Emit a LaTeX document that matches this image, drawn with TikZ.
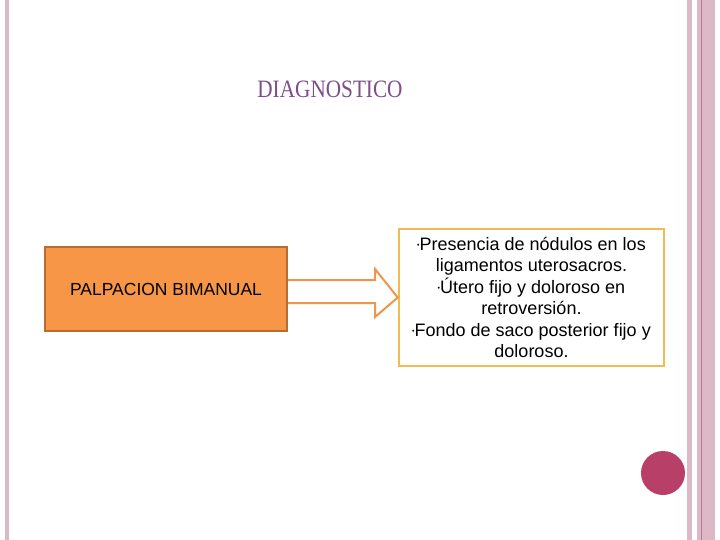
\documentclass[tikz,border=0pt]{standalone}
\usepackage{fontspec}
\setmainfont{Liberation Sans}
\newfontfamily\titlefont{Liberation Serif}
\usetikzlibrary{positioning}
\definecolor{stripe}{HTML}{DDB8C6}
\definecolor{stripedark}{HTML}{B87A92}
\definecolor{boxorange}{HTML}{F79646}
\definecolor{boxedge}{HTML}{B66D31}
\definecolor{arrowedge}{HTML}{F0964A}
\definecolor{listedge}{HTML}{F2BA52}
\definecolor{titlecol}{HTML}{7E4E8A}
\definecolor{dotcol}{HTML}{B83F68}
\newcommand{\bul}{\raisebox{0.3ex}{\scriptsize•}}
\begin{document}
\begin{tikzpicture}[x=1pt,y=-1pt,every node/.style={inner sep=0pt}]
\useasboundingbox (0,0) rectangle (720,540);
\fill[white] (0,0) rectangle (720,540);
% side stripes
\fill[stripe] (5,0) rectangle (9,540);
\fill[stripe] (687,0) rectangle (692,540);
\fill[stripe] (697,0) rectangle (715,540);
\fill[stripedark] (701,0) rectangle (702,540);
\node (title) at (330,89) [text=titlecol,font=\titlefont\fontsize{25}{25}\selectfont,xscale=0.85] {DIAGNOSTICO};
\node (palp) at (166,289) [draw=boxedge,line width=2pt,fill=boxorange,minimum width=242,minimum height=84,font=\fontsize{17.5}{19}\selectfont] {PALPACION BIMANUAL};
\node (list) at (531.5,297.5) [draw=listedge,line width=2.5pt,fill=white,minimum width=265,minimum height=137,align=center,font=\fontsize{18}{21.5}\selectfont] {\bul Presencia de nódulos en los\\ligamentos uterosacros.\\\bul Útero fijo y doloroso en\\retroversión.\\\bul Fondo de saco posterior fijo y\\doloroso.};
\draw[arrowedge,line width=2pt,fill=white,line join=miter] (palp.east |- 0,280) -- (375,280) -- (375,269) -- (list.west) -- (375,317) -- (375,303) -- (palp.east |- 0,303);
\node (dot) at (663,473) [circle,fill=dotcol,minimum size=44] {};
\end{tikzpicture}
\end{document}
